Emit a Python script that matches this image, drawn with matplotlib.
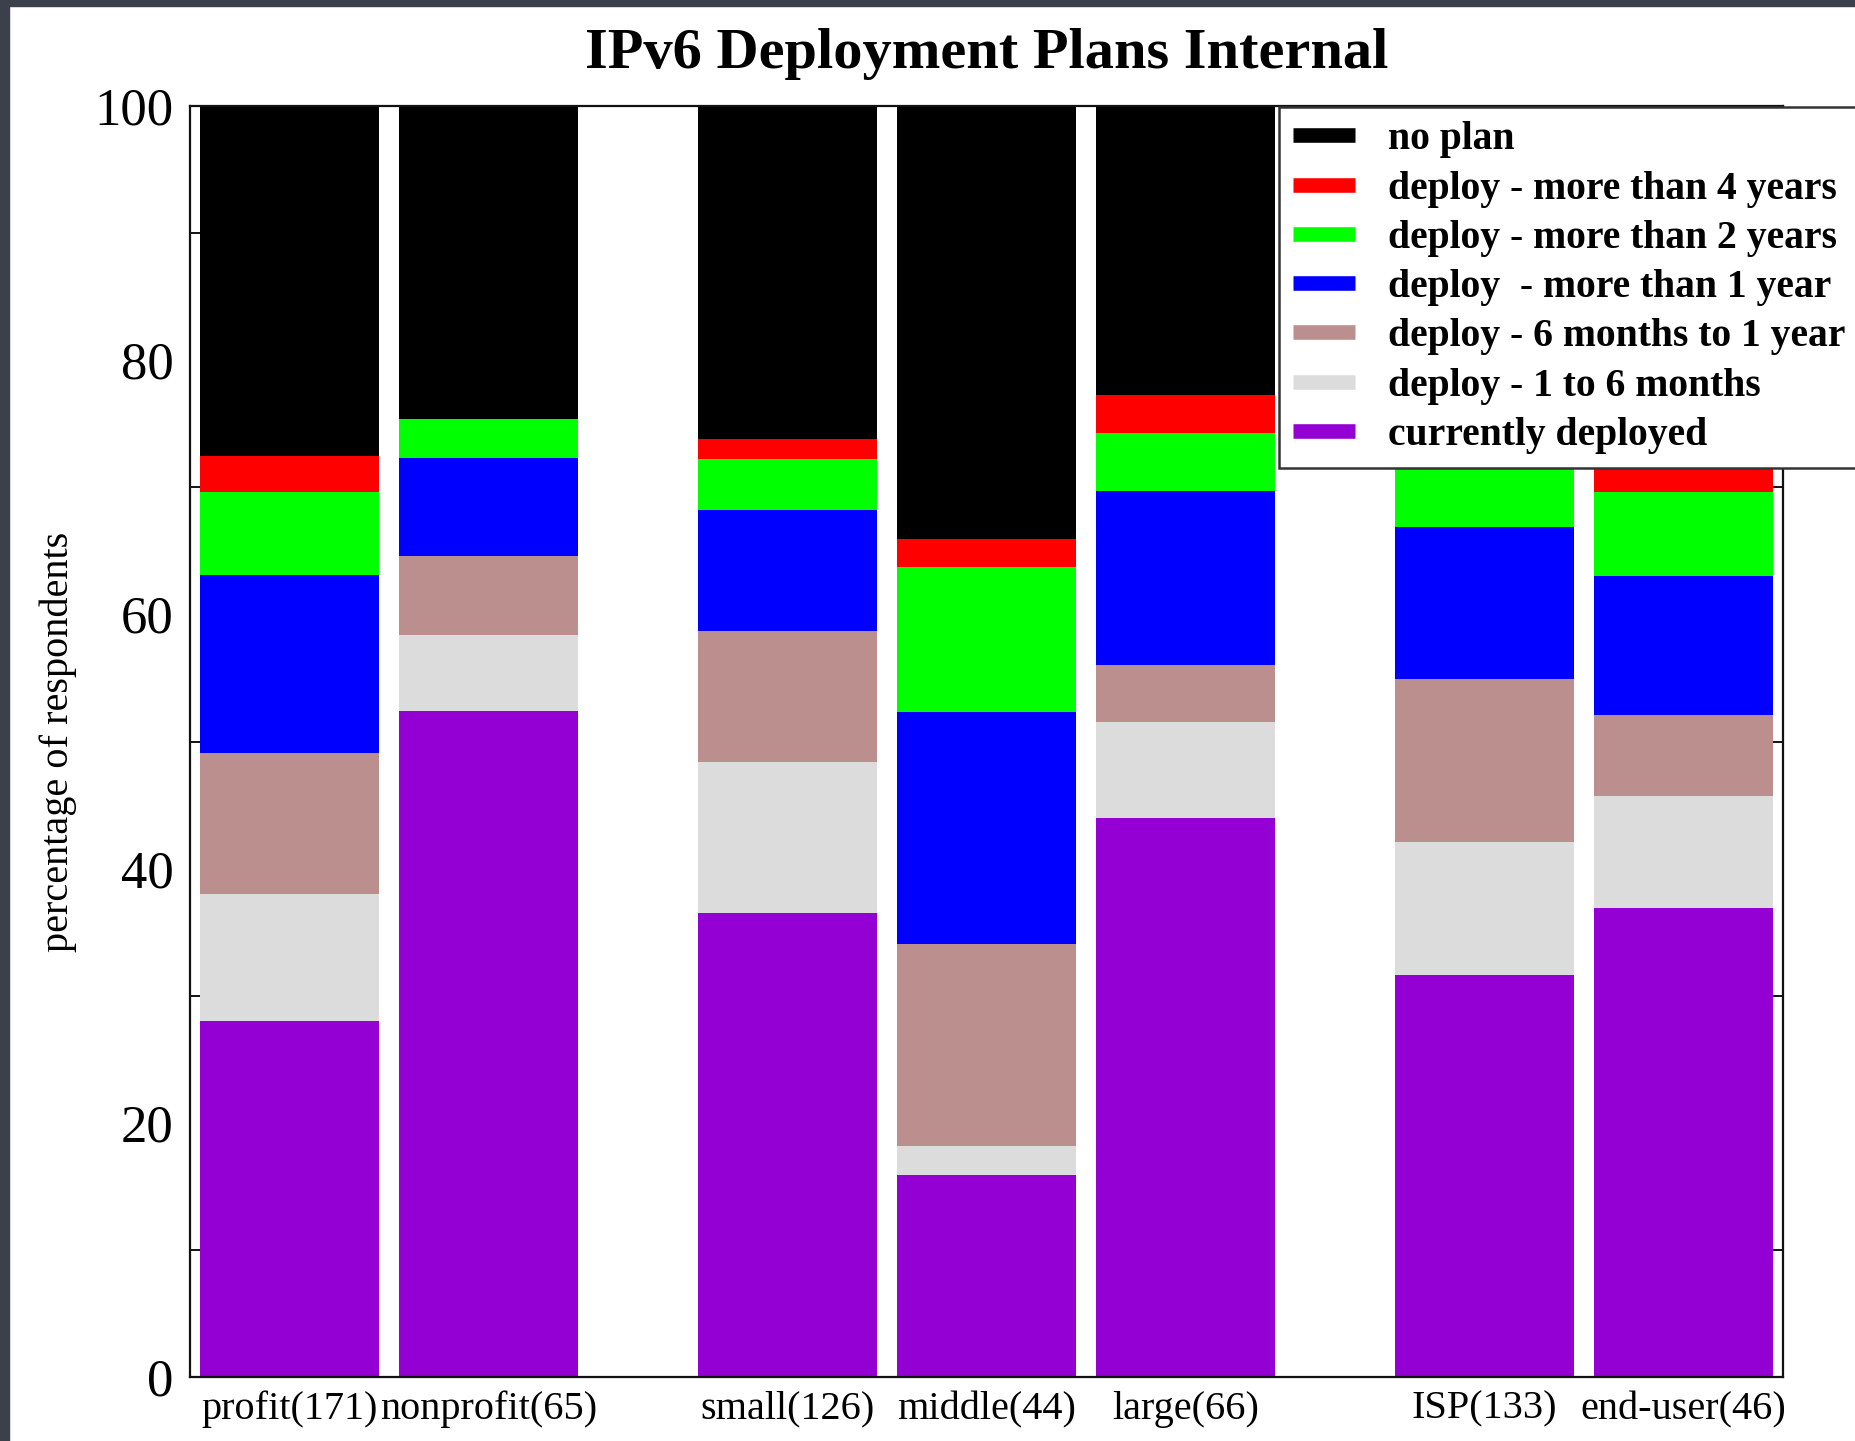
import matplotlib
matplotlib.use("Agg")
import matplotlib.pyplot as plt
from matplotlib.lines import Line2D
from matplotlib.patches import Rectangle
import numpy as np

plt.rcParams['font.family'] = ['Liberation Serif', 'DejaVu Serif']

# groups and where they sit on the x axis (gaps between the three blocks)
groups = ["profit(171)", "nonprofit(65)", "small(126)", "middle(44)",
          "large(66)", "ISP(133)", "end-user(46)"]
positions = [0, 1, 2.5, 3.5, 4.5, 6, 7]

# percentage of respondents per answer, bottom to top of each stack
currently_deployed = [28.0, 52.4, 36.5, 15.9, 44.0, 31.6, 36.9]
one_to_six_months = [10.0, 6.0, 11.9, 2.3, 7.5, 10.5, 8.8]
six_months_to_year = [11.1, 6.2, 10.3, 15.9, 4.5, 12.8, 6.4]
more_than_1_year = [14.0, 7.7, 9.5, 18.2, 13.7, 12.0, 10.9]
more_than_2_years = [6.5, 3.1, 4.0, 11.4, 4.6, 6.1, 6.6]
more_than_4_years = [2.9, 0.0, 1.6, 2.2, 3.0, 2.0, 2.9]
no_plan = [27.5, 24.6, 26.2, 34.1, 22.7, 25.0, 27.5]

series = [
    ("currently deployed", currently_deployed, "#9400d3"),
    ("deploy - 1 to 6 months", one_to_six_months, "#dcdcdc"),
    ("deploy - 6 months to 1 year", six_months_to_year, "#bc8f8f"),
    ("deploy  - more than 1 year", more_than_1_year, "#0000ff"),
    ("deploy - more than 2 years", more_than_2_years, "#00ff00"),
    ("deploy - more than 4 years", more_than_4_years, "#ff0000"),
    ("no plan", no_plan, "#000000"),
]

fig = plt.figure(figsize=(18.55, 14.41), dpi=100)
fig.patch.set_facecolor("white")
# dark slide frame on the left and top edges
fig.patches.append(Rectangle((0, 0), 9 / 1855, 1, transform=fig.transFigure,
                             color="#3c404b", zorder=0))
fig.patches.append(Rectangle((0, 1 - 6 / 1441), 1, 6 / 1441, transform=fig.transFigure,
                             color="#3c404b", zorder=0))

ax = fig.add_axes([190 / 1855, 1 - 1377 / 1441, (1783 - 190) / 1855, (1377 - 106) / 1441])

bottom = np.zeros(len(groups))
handles = []
for label, vals, color in series:
    vals = np.array(vals)
    ax.bar(positions, vals, width=0.9, bottom=bottom, color=color, edgecolor="none", zorder=2)
    bottom += vals
    handles.append(Line2D([], [], color=color, lw=10.5, solid_capstyle="butt", label=label))

ax.set_xlim(-0.5, 7.5)
ax.set_ylim(0, 100)
ax.set_xticks(positions)
ax.set_xticklabels(groups, fontsize=29)
ax.set_yticks(np.arange(0, 101, 20))
ax.set_yticks(np.arange(10, 100, 20), minor=True)
ax.tick_params(axis="y", which="major", length=0, pad=12, labelsize=38)
ax.tick_params(axis="y", which="minor", direction="in", length=8, width=1.3,
               left=True, right=True)
ax.tick_params(axis="x", length=0, pad=10)

for sp in ax.spines.values():
    sp.set_linewidth(1.6)
    sp.set_color("#111111")
    sp.set_zorder(3)

ax.set_ylabel("percentage of respondents", fontsize=29)
ax.yaxis.set_label_coords(-0.071, 0.5)

ax.set_title("IPv6 Deployment Plans Internal", fontsize=42, fontweight="bold", pad=27)

leg = ax.legend(handles=handles[::-1], loc="upper left",
                bbox_to_anchor=(1279 / 1855, 1 - 107 / 1441),
                bbox_transform=fig.transFigure, borderaxespad=0,
                prop={"size": 28.5, "weight": "bold"}, frameon=True, fancybox=False,
                handlelength=1.55, handletextpad=0.85, labelspacing=0.31,
                borderpad=0.36, framealpha=1)
leg.get_frame().set_edgecolor("#333333")
leg.get_frame().set_linewidth(1.8)
leg.set_zorder(5)

fig.savefig("out.png", dpi=100, facecolor=fig.get_facecolor())
